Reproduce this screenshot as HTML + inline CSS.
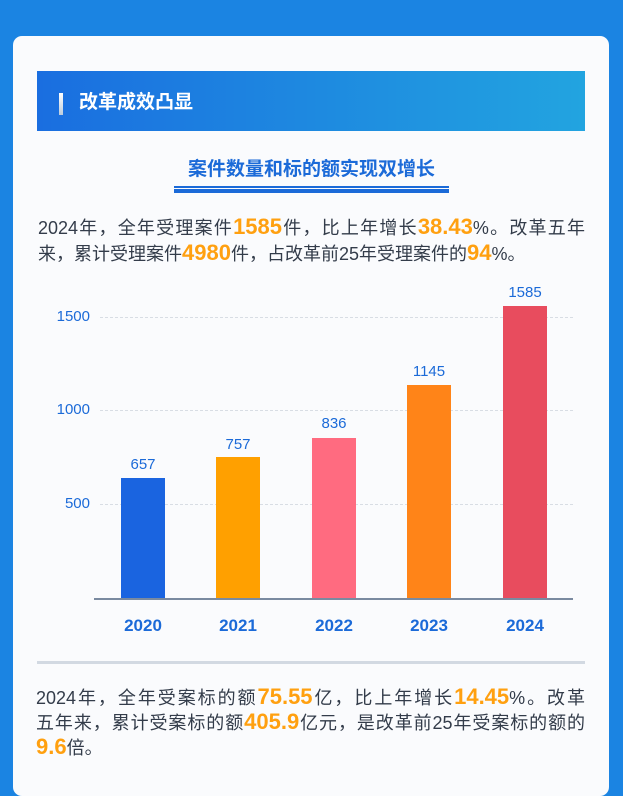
<!DOCTYPE html>
<html><head><meta charset="utf-8"><style>
body{margin:0;width:623px;height:749px;overflow:hidden;background:#1b84e2;font-family:"Liberation Sans","Noto Sans CJK SC",sans-serif;position:relative}
.card{position:absolute;left:13px;top:36px;width:596px;height:760px;background:#fafbfd;border-radius:9px}
.hdr{position:absolute;left:37px;top:71px;width:548px;height:60px;background:linear-gradient(90deg,#1a6ee0,#22a4e0)}
.hdr .bar{position:absolute;left:22px;top:22px;width:4px;height:22px;background:linear-gradient(#fff,#bcd)}
.hdr span{position:absolute;left:42px;top:16px;color:#fff;font-size:19px;font-weight:bold}
.t{position:absolute;left:0;width:623px;top:154px;text-align:center;color:#1b6ad8;font-size:19px;font-weight:bold}
.u1{position:absolute;left:174px;width:275px;top:186px;height:1.5px;background:#1b6ad8}
.u2{position:absolute;left:174px;width:275px;top:189px;height:4px;background:#1b6ad8}
.l{position:absolute;left:38px;width:547px;font-size:18px;color:#333c4a;line-height:25px;white-space:nowrap;text-align:justify;text-align-last:justify}
.l.n{text-align-last:left}
.l b{color:#ffa010;font-size:22px}
.yl{position:absolute;width:40px;left:50px;text-align:right;color:#1b6ad8;font-size:15px}
.g{position:absolute;left:100px;width:473px;border-top:1.5px dashed #d8dde4}
.b{position:absolute;width:44px}
.v{position:absolute;width:60px;text-align:center;color:#1b6ad8;font-size:15px}
.x{position:absolute;width:80px;text-align:center;color:#1b6ad8;font-size:17px;font-weight:bold;top:616px}
</style></head><body>
<div class="card"></div>
<div class="hdr"><div class="bar"></div><span>改革成效凸显</span></div>
<div class="t">案件数量和标的额实现双增长</div>
<div class="u1"></div><div class="u2"></div>
<div class="l" style="top:214px">2024年，全年受理案件<b>1585</b>件，比上年增长<b>38.43</b>%。改革五年</div>
<div class="l n" style="top:240px">来，累计受理案件<b>4980</b>件，占改革前25年受理案件的<b>94</b>%。</div>
<div class="g" style="top:317px"></div><div class="g" style="top:410px"></div><div class="g" style="top:504px"></div>
<div class="yl" style="top:308px">1500</div><div class="yl" style="top:401px">1000</div><div class="yl" style="top:495px">500</div>
<div class="b" style="left:121px;top:478px;height:121px;background:#1a64e0"></div>
<div class="b" style="left:216px;top:457px;height:142px;background:#ffa000"></div>
<div class="b" style="left:312px;top:438px;height:161px;background:#ff6b80"></div>
<div class="b" style="left:407px;top:385px;height:214px;background:#ff8418"></div>
<div class="b" style="left:503px;top:306px;height:293px;background:#e84c5e"></div>
<div class="v" style="left:113px;top:456px">657</div>
<div class="v" style="left:208px;top:436px">757</div>
<div class="v" style="left:304px;top:415px">836</div>
<div class="v" style="left:399px;top:363px">1145</div>
<div class="v" style="left:495px;top:284px">1585</div>
<div style="position:absolute;left:94px;width:479px;top:598px;height:2px;background:#7a8aa0"></div>
<div class="x" style="left:103px">2020</div><div class="x" style="left:198px">2021</div><div class="x" style="left:294px">2022</div><div class="x" style="left:389px">2023</div><div class="x" style="left:485px">2024</div>
<div style="position:absolute;left:37px;width:548px;top:661px;height:3px;background:#d2d9e2"></div>
<div class="l" style="left:36px;width:549px;top:684px">2024年，全年受案标的额<b>75.55</b>亿，比上年增长<b>14.45</b>%。改革</div>
<div class="l" style="left:36px;width:549px;top:709px">五年来，累计受案标的额<b>405.9</b>亿元，是改革前25年受案标的额的</div>
<div class="l n" style="left:36px;width:549px;top:734px"><b>9.6</b>倍。</div>
</body></html>
